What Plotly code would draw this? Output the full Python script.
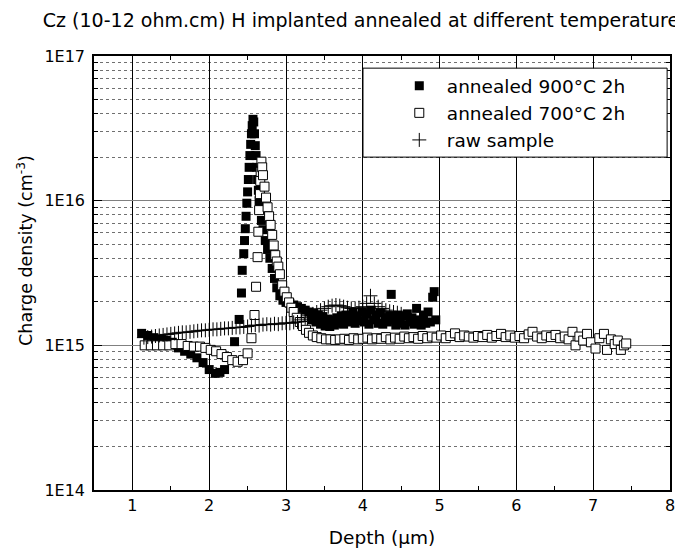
import plotly.graph_objects as go

# annealed 900C 2h (filled squares), depth in um, density in 1E15 cm^-3
x_900 = [1.12, 1.2, 1.28, 1.36, 1.44, 1.52, 1.6, 1.68, 1.76, 1.84, 1.92, 2.0, 2.08, 2.14, 2.2,
         2.33, 2.39, 2.42, 2.43, 2.45, 2.46, 2.47, 2.48, 2.49, 2.5, 2.51, 2.52, 2.53, 2.54, 2.55,
         2.56, 2.57, 2.58, 2.59, 2.6, 2.61, 2.62, 2.63, 2.64, 2.65, 2.66, 2.68, 2.7, 2.73, 2.76,
         2.79, 2.82, 2.85, 2.88, 2.92, 2.96, 3.0, 3.05, 3.1, 3.15, 3.2, 3.25, 3.3, 3.33, 3.36,
         3.39, 3.42, 3.45, 3.48, 3.51, 3.54, 3.57, 3.6, 3.63, 3.66, 3.69, 3.72, 3.75, 3.78, 3.81,
         3.84, 3.87, 3.9, 3.93, 3.96, 3.99, 4.02, 4.05, 4.08, 4.11, 4.14, 4.17, 4.2, 4.23, 4.26,
         4.29, 4.32, 4.35, 4.37, 4.4, 4.43, 4.46, 4.49, 4.52, 4.55, 4.58, 4.61, 4.64, 4.67, 4.7,
         4.73, 4.76, 4.79, 4.82, 4.85, 4.88, 4.91, 4.93, 4.95]
n_900 = [1.21, 1.17, 1.13, 1.10, 1.08, 1.05, 0.96, 0.91, 0.87, 0.82, 0.76, 0.68, 0.64, 0.65, 0.68,
         1.06, 1.51, 2.3, 3.3, 4.3, 5.3, 6.4, 7.8, 9.6, 11.5, 14.0, 17.0, 20.5, 24.5, 29.0,
         33.0, 36.5, 35.0, 29.0, 24.0, 20.5, 17.0, 14.0, 11.8, 10.0, 8.7, 7.3, 6.3, 5.3, 4.6,
         4.0, 3.4, 2.9, 2.5, 2.2, 2.05, 1.98, 1.95, 1.9, 1.85, 1.8, 1.75, 1.7, 1.5, 1.68,
         1.45, 1.62, 1.4, 1.58, 1.36, 1.52, 1.35, 1.5, 1.38, 1.55, 1.42, 1.6, 1.4, 1.62, 1.45,
         1.5, 1.68, 1.42, 1.6, 1.48, 1.7, 1.45, 1.65, 1.4, 1.75, 1.5, 1.62, 1.42, 1.68, 1.4,
         1.55, 1.45, 1.6, 2.25, 1.5, 1.38, 1.62, 1.42, 1.6, 1.38, 1.65, 1.45, 1.55, 1.4, 1.8,
         1.5, 1.38, 1.62, 1.42, 1.7, 1.45, 2.15, 2.35, 1.5]

# annealed 700C 2h (open squares)
x_700 = [1.16, 1.24, 1.32, 1.4, 1.48, 1.56, 1.64, 1.72, 1.8, 1.88, 1.95, 2.02, 2.09, 2.16, 2.23,
         2.3, 2.37, 2.44, 2.5, 2.55, 2.59, 2.61, 2.63, 2.64, 2.65, 2.66, 2.665, 2.67, 2.68, 2.69,
         2.7, 2.72, 2.74, 2.76, 2.78, 2.8, 2.82, 2.84, 2.86, 2.88, 2.9, 2.92, 2.95, 2.98, 3.01,
         3.04, 3.07, 3.1, 3.14, 3.18, 3.22, 3.26, 3.3, 3.35, 3.4, 3.46, 3.52, 3.58, 3.64, 3.7,
         3.76, 3.82, 3.88, 3.94, 4.0, 4.06, 4.12, 4.18, 4.24, 4.3, 4.36, 4.42, 4.48, 4.54, 4.6,
         4.66, 4.72, 4.78, 4.84, 4.9, 4.96, 5.02, 5.08, 5.14, 5.2, 5.26, 5.32, 5.38, 5.44, 5.5,
         5.56, 5.62, 5.68, 5.74, 5.8, 5.86, 5.92, 5.98, 6.04, 6.1, 6.16, 6.21, 6.27, 6.33, 6.39,
         6.45, 6.51, 6.57, 6.63, 6.68, 6.73, 6.77, 6.82, 6.87, 6.92, 6.97, 7.03, 7.08, 7.14, 7.18,
         7.23, 7.28, 7.32, 7.36, 7.4, 7.43]
n_700 = [1.0, 1.0, 1.0, 1.0, 1.0, 1.02, 1.02, 0.99, 0.98, 0.98, 0.96, 0.93, 0.91, 0.87, 0.83,
         0.79, 0.77, 0.79, 0.88, 1.12, 1.62, 2.54, 4.07, 6.1, 8.6, 11.1, 13.7, 15.8, 18.6, 17.0,
         15.0, 12.5, 10.5, 9.0, 7.8, 6.8, 5.8, 4.9, 4.2, 3.8, 3.5, 3.1, 2.6, 2.35, 2.15,
         1.98, 1.82, 1.7, 1.55, 1.45, 1.36, 1.28, 1.22, 1.17, 1.14, 1.12, 1.1, 1.1, 1.09, 1.1,
         1.11, 1.09, 1.12, 1.1, 1.11, 1.13, 1.1, 1.12, 1.11, 1.14, 1.1, 1.13, 1.11, 1.15, 1.12,
         1.14, 1.11, 1.16, 1.12, 1.15, 1.13, 1.17, 1.12, 1.16, 1.21, 1.14, 1.17, 1.15, 1.13, 1.16,
         1.14, 1.18, 1.13, 1.16, 1.2, 1.14, 1.17, 1.13, 1.16, 1.12, 1.19, 1.24, 1.15, 1.12, 1.17,
         1.14, 1.18, 1.12, 1.15, 1.1, 1.24, 1.0, 1.15, 1.08, 1.2, 1.05, 0.95, 1.12, 1.2, 0.93,
         1.1, 1.02, 1.08, 0.93, 1.0, 1.03]

# raw sample (crosses)
x_raw = [1.15, 1.2, 1.25, 1.3, 1.35, 1.4, 1.45, 1.5, 1.55, 1.6, 1.65, 1.7, 1.75, 1.8, 1.85,
         1.9, 1.95, 2.0, 2.05, 2.1, 2.15, 2.2, 2.25, 2.3, 2.35, 2.4, 2.45, 2.5, 2.55, 2.6,
         2.65, 2.7, 2.75, 2.8, 2.85, 2.9, 2.95, 3.0, 3.05, 3.1, 3.15, 3.2, 3.25, 3.3, 3.35,
         3.4, 3.45, 3.5, 3.55, 3.6, 3.65, 3.7, 3.75, 3.8, 3.85, 3.9, 3.95, 4.0, 4.05, 4.1,
         4.15, 4.2, 4.25, 4.3, 4.35, 4.4, 4.45, 4.5]
n_raw = [1.13, 1.14, 1.15, 1.16, 1.17, 1.18, 1.19, 1.2, 1.21, 1.22, 1.23, 1.23, 1.24, 1.25, 1.26,
         1.27, 1.27, 1.28, 1.29, 1.29, 1.3, 1.31, 1.31, 1.32, 1.33, 1.33, 1.34, 1.35, 1.37, 1.38,
         1.37, 1.39, 1.4, 1.39, 1.41, 1.4, 1.42, 1.43, 1.42, 1.44, 1.45, 1.5, 1.55, 1.6, 1.65,
         1.7, 1.75, 1.8, 1.85, 1.88, 1.9, 1.88, 1.85, 1.82, 1.8, 1.8, 1.82, 1.85, 1.95, 2.2,
         1.95, 1.85, 1.8, 1.75, 1.72, 1.7, 1.68, 1.65]

y_ticks = [1e14, 1e15, 1e16, 1e17]
y_ticktext = ['1E14', '1E15', '1E16', '1E17']

FONT = 'DejaVu Sans, Liberation Sans, Arial, sans-serif'

fig = go.Figure()
fig.add_trace(go.Scatter(
    x=x_900, y=[v * 1e15 for v in n_900], mode='markers', name='annealed 900°C 2h',
    marker=dict(symbol='square', size=9, color='black', line=dict(width=0))))
fig.add_trace(go.Scatter(
    x=x_700, y=[v * 1e15 for v in n_700], mode='markers', name='annealed 700°C 2h',
    marker=dict(symbol='square', size=9, color='white', line=dict(width=1, color='black'))))
fig.add_trace(go.Scatter(
    x=x_raw, y=[v * 1e15 for v in n_raw], mode='markers', name='raw sample',
    marker=dict(symbol='cross-thin', size=10, color='black', line=dict(width=1, color='black'))))

# legend frame
fig.add_shape(type='rect', xref='paper', yref='paper', x0=0.467, x1=0.995, y0=0.767, y1=0.972,
              line=dict(color='black', width=1), fillcolor='white', layer='above')

# y title as annotation (sits above the axis centre in the original)
fig.add_annotation(text='Charge density (cm<sup>-3</sup>)', textangle=-90, showarrow=False,
                   xref='paper', yref='paper', x=-0.12, y=0.553,
                   xanchor='center', yanchor='middle', font=dict(size=17.5))

minor_y = [m * 10 ** e for e in (14, 15, 16) for m in range(2, 10)]

# page body adds an 8px offset, so the figure is 8px smaller than the window
fig.update_layout(
    width=675, height=547,
    margin=dict(l=86, r=13, t=48, b=65),
    paper_bgcolor='white', plot_bgcolor='white',
    font=dict(family=FONT, color='black', size=16),
    title=dict(text='Cz (10-12 ohm.cm) H implanted annealed at different temperature',
               x=353 / 675, xref='container', xanchor='center', y=1 - 12 / 547, yanchor='middle',
               font=dict(size=19)),
    legend=dict(x=0.517, y=0.974, xanchor='left', yanchor='top', bgcolor='rgba(0,0,0,0)',
                font=dict(size=18.5), itemwidth=45, tracegroupgap=0),
    xaxis=dict(
        title=dict(text='Depth (µm)', font=dict(size=18.5), standoff=17),
        automargin=False,
        range=[0.5, 8], tickmode='linear', tick0=1, dtick=1,
        ticks='inside', ticklen=7, tickcolor='black', tickwidth=1,
        showline=True, linecolor='black', linewidth=1.5, mirror='ticks',
        showgrid=True, gridcolor='black', gridwidth=1, zeroline=False,
        minor=dict(tickmode='linear', tick0=0.5, dtick=0.5, ticks='inside', ticklen=4,
                   tickcolor='black', showgrid=False),
    ),
    yaxis=dict(
        automargin=False,
        type='log', range=[14, 17], tickvals=y_ticks, ticktext=y_ticktext,
        ticklabelstandoff=4,
        ticks='inside', ticklen=8, tickcolor='black', tickwidth=1,
        showline=True, linecolor='black', linewidth=1.5, mirror='ticks',
        showgrid=True, gridcolor='#808080', gridwidth=1, zeroline=False,
        minor=dict(tickvals=minor_y, ticks='inside', ticklen=4, tickcolor='black',
                   showgrid=True, gridcolor='#707070', griddash='dot', gridwidth=1),
    ),
)

fig.write_html('out.html')
